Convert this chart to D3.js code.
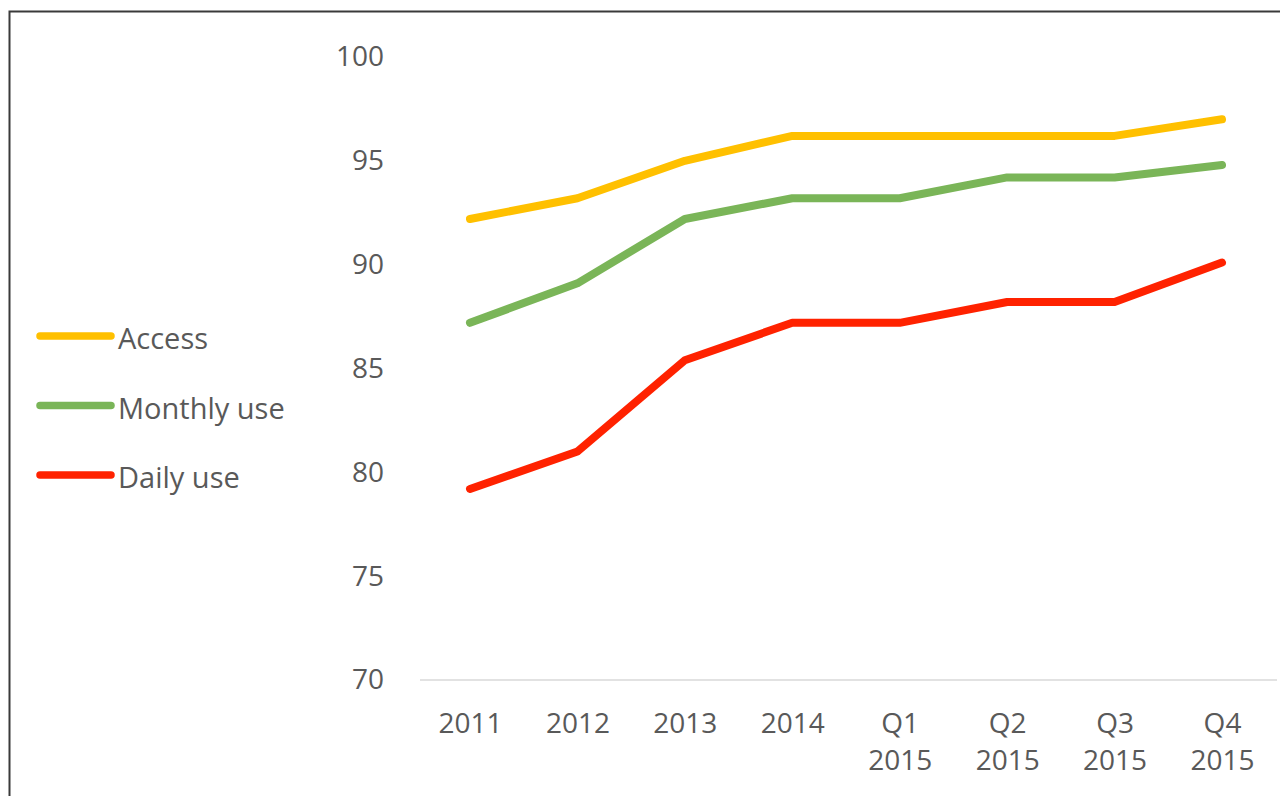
<!DOCTYPE html>
<html>
<head>
<meta charset="utf-8">
<script src="https://d3js.org/d3.v7.min.js"></script>
<style>
  body { margin: 0; background: #fff; }
  svg { display: block; }
  text { font-family: "Open Sans", "Noto Sans", sans-serif; fill: #595959; }
</style>
</head>
<body>
<div id="chart"></div>
<script>
// categories and values
var periods = ["2011", "2012", "2013", "2014", "Q1 2015", "Q2 2015", "Q3 2015", "Q4 2015"];
var access  = [92.2, 93.2, 95, 96.2, 96.2, 96.2, 96.2, 97];
var monthly = [87.2, 89.1, 92.2, 93.2, 93.2, 94.2, 94.2, 94.8];
var daily   = [79.2, 81, 85.4, 87.2, 87.2, 88.2, 88.2, 90.1];
var yTicks  = [70, 75, 80, 85, 90, 95, 100];

var series = [
  { name: "Access",      values: access,  color: "#FFC000" },
  { name: "Monthly use", values: monthly, color: "#7AB558" },
  { name: "Daily use",   values: daily,   color: "#FF2200" }
];

var W = 1280, H = 796;

var svg = d3.select("#chart")
  .append("svg")
    .attr("width", W)
    .attr("height", H);

// frame (only top and left edges are visible)
svg.append("path")
  .attr("d", "M9.5," + H + "V11.5H" + W)
  .attr("fill", "none")
  .attr("stroke", "#3a3a3a")
  .attr("stroke-width", 2);

var x = d3.scalePoint()
  .domain(periods)
  .range([470, 1222]);

var y = d3.scaleLinear()
  .domain([70, 100])
  .range([680, 57]);

// baseline
svg.append("line")
  .attr("x1", 420).attr("x2", 1277)
  .attr("y1", y(70)).attr("y2", y(70))
  .attr("stroke", "#d9d9d9")
  .attr("stroke-width", 1.5);

// y axis labels
var yAxis = svg.append("g")
  .attr("transform", "translate(384,0)")
  .call(d3.axisLeft(y).tickValues(yTicks).tickSize(0).tickPadding(0));
yAxis.select(".domain").remove();
yAxis.selectAll("text")
  .attr("font-size", 28)
  .attr("font-family", null)
  .attr("fill", null);

// x axis labels, wrapped on two lines
var xAxis = svg.append("g")
  .attr("transform", "translate(0," + 708 + ")")
  .call(d3.axisBottom(x).tickSize(0).tickPadding(0));
xAxis.select(".domain").remove();
xAxis.selectAll("text")
  .attr("font-size", 28)
  .attr("font-family", null)
  .attr("fill", null)
  .attr("dy", null)
  .each(function(d) {
    var parts = d.split(" ");
    var t = d3.select(this).text(null).attr("y", 0);
    parts.forEach(function(p, i) {
      t.append("tspan")
        .attr("x", 0)
        .attr("y", 25 + i * 37)
        .text(p);
    });
  });

// lines
var line = d3.line()
  .x(function(d, i) { return x(periods[i]); })
  .y(function(d) { return y(d); });

svg.append("g")
  .selectAll("path")
  .data(series)
  .enter()
  .append("path")
    .attr("d", function(d) { return line(d.values); })
    .attr("fill", "none")
    .attr("stroke", function(d) { return d.color; })
    .attr("stroke-width", 8)
    .attr("stroke-linecap", "round")
    .attr("stroke-linejoin", "round");

// legend
var legend = svg.append("g")
  .selectAll("g")
  .data(series)
  .enter()
  .append("g")
    .attr("transform", function(d, i) { return "translate(0," + (336 + i * 69.5) + ")"; });

legend.append("line")
  .attr("x1", 40).attr("x2", 111)
  .attr("stroke", function(d) { return d.color; })
  .attr("stroke-width", 7.5)
  .attr("stroke-linecap", "round");

legend.append("text")
  .attr("x", 118)
  .attr("y", 13)
  .attr("font-size", 29)
  .text(function(d) { return d.name; });
</script>
</body>
</html>
